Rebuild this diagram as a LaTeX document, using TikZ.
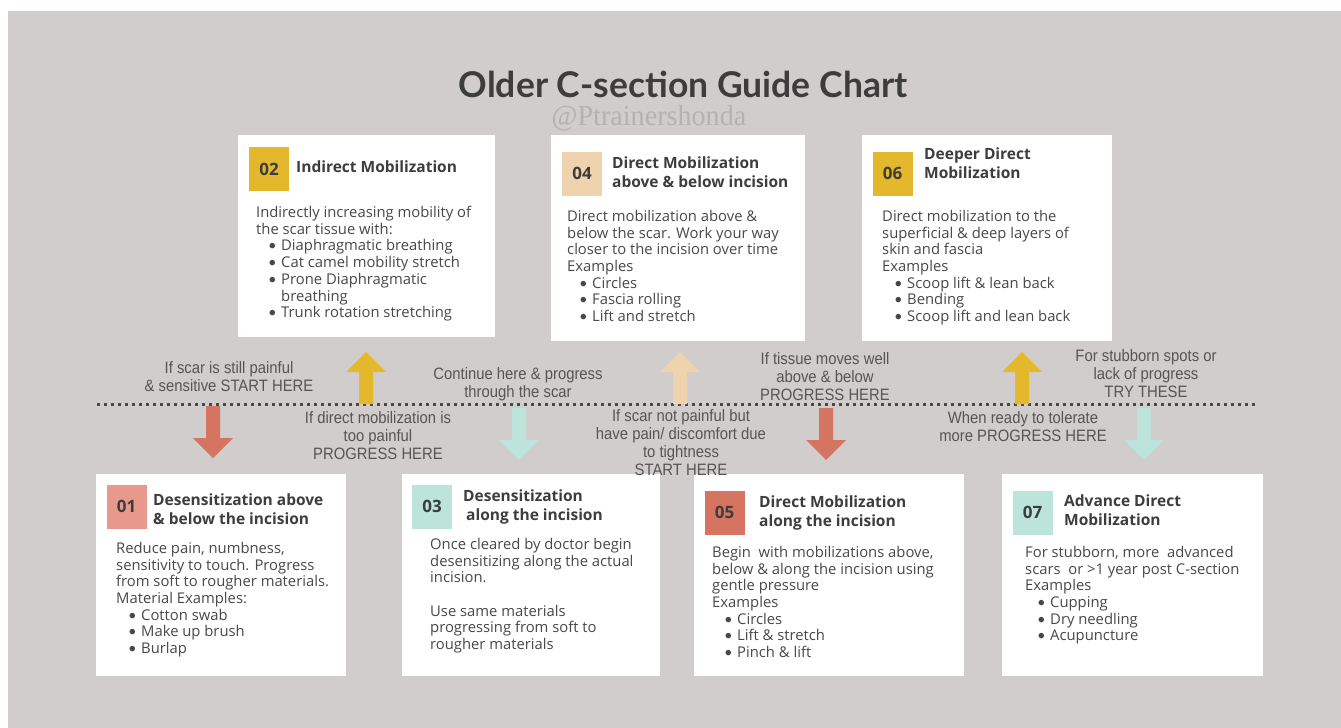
\documentclass[tikz,border=0pt]{standalone}
\usepackage{fontspec}
\setmainfont{Open Sans}
\newfontfamily\titlefont{Lato}
\newfontfamily\condfont[FakeStretch=0.9]{Liberation Sans}
\newfontfamily\markfont[FakeStretch=0.97]{Liberation Serif}

\definecolor{bggray}{HTML}{D1CDCC}
\definecolor{gold}{HTML}{E3B82C}
\definecolor{peach}{HTML}{EFD3AE}
\definecolor{salmon}{HTML}{E8998B}
\definecolor{brick}{HTML}{D67462}
\definecolor{mint}{HTML}{BCE4DB}
\definecolor{textdark}{HTML}{3D3D3D}
\definecolor{bodygray}{HTML}{484848}
\definecolor{labelgray}{HTML}{555555}
\definecolor{markgray}{HTML}{B6B2B1}
\definecolor{dotgray}{HTML}{484848}

\newcommand{\bul}[1]{\hspace*{12pt}\makebox[13pt][l]{\titlefont\textbullet}#1}

\tikzset{
  card/.style={fill=white, inner sep=0pt},
  numbox/.style={inner sep=0pt, minimum width=40pt, minimum height=44pt, text=textdark,
    font=\fontsize{17}{20}\selectfont\bfseries},
  heading/.style={anchor=north west, inner sep=0pt, align=left, text=textdark,
    font=\fontsize{15.5}{18.8}\selectfont\bfseries},
  bodytext/.style={anchor=north west, inner sep=0pt, align=left, text=bodygray,
    font=\fontsize{14.8}{16.7}\selectfont},
  hint/.style={align=center, inner sep=0pt, text=labelgray,
    font=\condfont\fontsize{16.5}{18}\selectfont},
  dotline/.style={line width=3pt, dash pattern=on 3pt off 4pt, dotgray},
  dnarr/.pic={\path[pic actions] (-7,0) -- (7,0) -- (7,32) -- (20,32) -- (0,52) -- (-20,32) -- (-7,32) -- cycle;},
  uparr/.pic={\path[pic actions] (-7,0) -- (7,0) -- (7,-32) -- (20,-32) -- (0,-52) -- (-20,-32) -- (-7,-32) -- cycle;}
}

\begin{document}
\begin{tikzpicture}[x=1pt,y=-1pt]
  \useasboundingbox (0,0) rectangle (1341,728);
  \fill[white] (0,0) rectangle (1341,728);
  \fill[bggray] (8,11) rectangle (1341,728);

  % Title
  \node[text=textdark, font=\titlefont\fontsize{35.5}{40}\selectfont\bfseries] (title) at (683,84) {Older C-section Guide Chart};
  \node[text=markgray, font=\markfont\fontsize{29}{32}\selectfont] (mark) at (649,118) {@Ptrainershonda};

  % Timeline
  \coordinate (dl) at (97,404);
  \coordinate (dr) at (1257,404);
  \draw[dotline] (dl) -- (dr);

  % Box 02
  \node[card, minimum width=257pt, minimum height=202pt] (c02) at (366.5,236) {};
  \node[numbox, fill=gold] (n02) at (269,169) {02};
  \node[heading] (h02) at (296,161) {Indirect Mobilization};
  \node[bodytext] (b02) at (256,206) {Indirectly increasing mobility of\\the scar tissue with:\\
    \bul{Diaphragmatic breathing}\\\bul{Cat camel mobility stretch}\\\bul{Prone Diaphragmatic}\\
    \hspace*{25pt}breathing\\\bul{Trunk rotation stretching}};

  % Box 04
  \node[card, minimum width=254pt, minimum height=206pt] (c04) at (678,238) {};
  \node[numbox, fill=peach] (n04) at (582,173.5) {04};
  \node[heading] (h04) at (612,157) {Direct Mobilization\\above \& below incision};
  \node[bodytext] (b04) at (567,210) {Direct mobilization above \&\\below the scar. Work your way\\
    closer to the incision over time\\Examples\\\bul{Circles}\\\bul{Fascia rolling}\\\bul{Lift and stretch}};

  % Box 06
  \node[card, minimum width=250pt, minimum height=206pt] (c06) at (987,238) {};
  \node[numbox, fill=gold] (n06) at (892.5,173.5) {06};
  \node[heading] (h06) at (924,148) {Deeper Direct\\Mobilization};
  \node[bodytext] (b06) at (882,210) {Direct mobilization to the\\superficial \& deep layers of\\
    skin and fascia\\Examples\\\bul{Scoop lift \& lean back}\\\bul{Bending}\\\bul{Scoop lift and lean back}};

  % Box 01
  \node[card, minimum width=250pt, minimum height=202pt] (c01) at (221,575) {};
  \node[numbox, fill=salmon] (n01) at (126.5,506.5) {01};
  \node[heading] (h01) at (153,494) {Desensitization above\\\& below the incision};
  \node[bodytext] (b01) at (116,542) {Reduce pain, numbness,\\sensitivity to touch. Progress\\
    from soft to rougher materials.\\Material Examples:\\\bul{Cotton swab}\\\bul{Make up brush}\\\bul{Burlap}};

  % Box 03
  \node[card, minimum width=258pt, minimum height=202pt] (c03) at (531,575) {};
  \node[numbox, fill=mint] (n03) at (432,506.5) {03};
  \node[heading] (h03) at (463,490) {Desensitization\\\hspace*{3pt}along the incision};
  \node[bodytext] (b03) at (430,538) {Once cleared by doctor begin\\desensitizing along the actual\\
    incision.\\[16.7pt]Use same materials\\progressing from soft to\\rougher materials};

  % Box 05
  \node[card, minimum width=270pt, minimum height=202pt] (c05) at (829,575) {};
  \node[numbox, fill=brick] (n05) at (724.5,512.5) {05};
  \node[heading] (h05) at (759,496) {Direct Mobilization\\along the incision};
  \node[bodytext] (b05) at (712,546) {Begin\ \ with mobilizations above,\\below \& along the incision using\\
    gentle pressure\\Examples\\\bul{Circles}\\\bul{Lift \& stretch}\\\bul{Pinch \& lift}};

  % Box 07
  \node[card, minimum width=261pt, minimum height=202pt] (c07) at (1132.5,575) {};
  \node[numbox, fill=mint] (n07) at (1032.5,512.5) {07};
  \node[heading] (h07) at (1064,495) {Advance Direct\\Mobilization};
  \node[bodytext] (b07) at (1025,546) {For stubborn, more\ \ advanced\\scars\ \ or >1 year post C-section\\
    Examples\\\bul{Cupping}\\\bul{Dry needling}\\\bul{Acupuncture}};

  % Arrows on the timeline
  \pic[fill=brick] (a1) at (213,406) {dnarr};
  \pic[fill=gold] (a2) at (366,404) {uparr};
  \pic[fill=mint] (a3) at (519,408) {dnarr};
  \pic[fill=peach] (a4) at (680,404) {uparr};
  \pic[fill=brick] (a5) at (826,408) {dnarr};
  \pic[fill=gold] (a6) at (1022,404) {uparr};
  \pic[fill=mint] (a7) at (1144,408) {dnarr};

  % Hints along the timeline
  \node[hint] (t1) at (229,377) {If scar is still painful\\\& sensitive START HERE};
  \node[hint] (t2) at (378,436) {If direct mobilization is\\too painful\\PROGRESS HERE};
  \node[hint] (t3) at (518,384) {Continue here \& progress\\through the scar};
  \node[hint] (t4) at (681,443) {If scar not painful but\\have pain/ discomfort due\\to tightness\\START HERE};
  \node[hint] (t5) at (825,377) {If tissue moves well\\above \& below\\PROGRESS HERE};
  \node[hint] (t6) at (1023,427) {When ready to tolerate\\more PROGRESS HERE};
  \node[hint] (t7) at (1146,374) {For stubborn spots or\\lack of progress\\TRY THESE};
\end{tikzpicture}
\end{document}
